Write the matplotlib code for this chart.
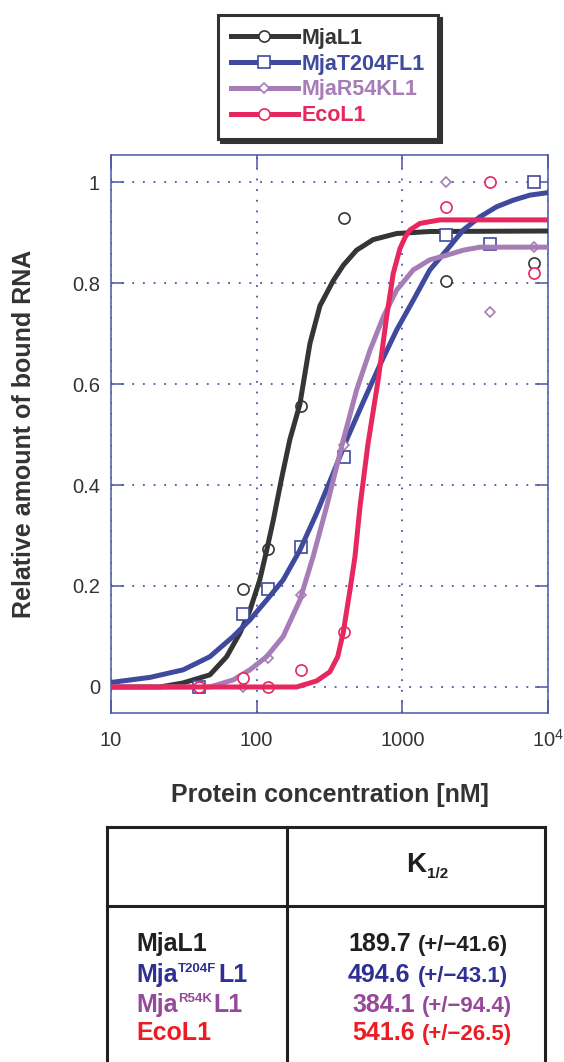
import matplotlib
matplotlib.use('Agg')
import matplotlib.pyplot as plt
from matplotlib.lines import Line2D
from matplotlib.ticker import NullLocator

plt.rcParams['font.family'] = ['Liberation Sans', 'DejaVu Sans']
plt.rcParams['mathtext.fontset'] = 'custom'
plt.rcParams['mathtext.rm'] = 'Liberation Sans'

# fitted curves
mja_cx = [10, 21.7, 31.2, 47.7, 62.2, 76.8, 89.9, 105, 117, 130, 149, 169, 198, 232, 272, 336, 393, 485, 631, 914, 1545, 10000]
mja_cy = [0, 0, 0.008, 0.024, 0.06, 0.107, 0.152, 0.212, 0.27, 0.33, 0.416, 0.49, 0.56, 0.68, 0.755, 0.805, 0.835, 0.865, 0.886, 0.898, 0.902, 0.903]
t204_cx = [10, 18.5, 31.3, 47.7, 69, 89.9, 117, 152, 198, 258, 336, 415, 540, 702, 914, 1189, 1545, 2014, 2620, 3410, 4440, 5770, 7510, 10000]
t204_cy = [0.009, 0.019, 0.034, 0.06, 0.1, 0.133, 0.172, 0.212, 0.271, 0.344, 0.424, 0.49, 0.565, 0.638, 0.707, 0.766, 0.826, 0.865, 0.905, 0.931, 0.951, 0.964, 0.974, 0.979]
r54_cx = [10, 47.7, 69, 89.9, 117, 152, 198, 244, 302, 393, 485, 600, 740, 914, 1189, 1545, 2014, 2620, 3410, 10000]
r54_cy = [0, 0, 0.014, 0.034, 0.06, 0.1, 0.172, 0.258, 0.357, 0.489, 0.588, 0.667, 0.733, 0.786, 0.826, 0.846, 0.855, 0.865, 0.871, 0.871]
eco_cx = [10, 188, 258, 318, 360, 393, 437, 473, 512, 580, 684, 780, 866, 963, 1050, 1127, 1321, 1811, 10000]
eco_cy = [0, 0, 0.012, 0.03, 0.06, 0.108, 0.192, 0.258, 0.357, 0.48, 0.61, 0.733, 0.819, 0.868, 0.892, 0.905, 0.918, 0.925, 0.925]

# measured points
mja_x = [40, 80, 120, 200, 400, 2000, 8000]
mja_y = [0, 0.195, 0.273, 0.557, 0.929, 0.804, 0.839]
t204_x = [40, 80, 120, 200, 400, 2000, 4000, 8000]
t204_y = [0, 0.145, 0.194, 0.277, 0.455, 0.895, 0.877, 1.0]
r54_x = [40, 80, 120, 200, 400, 2000, 4000, 8000]
r54_y = [0, 0, 0.058, 0.182, 0.479, 1.0, 0.742, 0.871]
eco_x = [40, 80, 120, 200, 400, 2000, 4000, 8000]
eco_y = [0, 0.018, 0, 0.034, 0.108, 0.951, 1.0, 0.82]

labels = ['MjaL1', 'MjaT204FL1', 'MjaR54KL1', 'EcoL1']
colors = ['#353535', '#3f4a9e', '#a67db6', '#e6285f']
markers = ['o', 's', 'D', 'o']
msizes = [8, 8, 5.5, 8]

# table
row_main = ['MjaL1', 'Mja', 'Mja', 'EcoL1']
row_sup = ['', 'T204F', 'R54K', '']
row_end = ['', 'L1', 'L1', '']
k_half = ['189.7', '494.6', '384.1', '541.6']
k_err = ['41.6', '43.1', '94.4', '26.5']
tab_colors = ['#231f20', '#2e3192', '#96489a', '#ed1c24']

axblue = '#4a55a8'
txt = '#333333'

fig = plt.figure(figsize=(5.64, 10.62), dpi=100)
ax = fig.add_axes([111/564, 1-713/1062, 437/564, 558/1062])

curves = [(mja_cx, mja_cy), (t204_cx, t204_cy), (r54_cx, r54_cy), (eco_cx, eco_cy)]
points = [(mja_x, mja_y), (t204_x, t204_y), (r54_x, r54_y), (eco_x, eco_y)]
handles = []
for i in range(4):
    c = colors[i]
    ax.plot(points[i][0], points[i][1], ls='none', marker=markers[i], ms=msizes[i],
            mfc='white', mec=c, mew=1.2, zorder=3 + i)
    ax.plot(curves[i][0], curves[i][1], color=c, lw=3.6, zorder=3 + i)
    handles.append(Line2D([], [], color=c, lw=3.6, marker=markers[i], ms=msizes[i],
                          mfc='white', mec=c, mew=1.2))

ax.set_xscale('log')
ax.set_xlim(10, 1e4)
ax.set_ylim(-0.0515, 1.0535)
ax.set_xticks([10, 100, 1000, 1e4], ['10', '100', '1000', r'$\mathregular{10^4}$'])
ax.xaxis.set_minor_locator(NullLocator())
ax.set_yticks([0, 0.2, 0.4, 0.6, 0.8, 1], ['0', '0.2', '0.4', '0.6', '0.8', '1'])
ax.tick_params(direction='in', length=9.5, width=1.1, color=axblue, top=True, right=True,
               labelsize=14.5, labelcolor=txt)
ax.tick_params(axis='x', pad=24)
ax.tick_params(axis='y', pad=8)
plt.setp(ax.get_xticklabels(), va='baseline')
for s in ax.spines.values():
    s.set_color(axblue)
    s.set_linewidth(1.1)
ax.grid(True, color=axblue, lw=1.3, linestyle=(0, (1, 4.9)))
ax.set_axisbelow(True)

fig.text(24/564, 1-434/1062, 'Relative amount of bound RNA', rotation=90, ha='center', va='center',
         fontsize=18, weight='bold', color=txt)
fig.text(329.5/564, 1-802/1062, 'Protein concentration [nM]', ha='center', va='baseline',
         fontsize=18, weight='bold', color=txt)

leg = fig.legend(handles, labels, loc='upper left', bbox_to_anchor=(218/564, 1-15/1062),
                 bbox_transform=fig.transFigure, borderaxespad=0, prop={'weight': 'bold', 'size': 15.5},
                 labelcolor='linecolor', handlelength=3.1, handletextpad=0.2, labelspacing=0.22,
                 borderpad=0.6, fancybox=False, framealpha=1,
                 shadow={'color': '#333333', 'alpha': 1})
leg.get_frame().set_edgecolor('#333333')
leg.get_frame().set_linewidth(2.2)

# table in pixel coordinates
lay = fig.add_axes([0, 0, 1, 1])
lay.set_xlim(0, 564)
lay.set_ylim(1062, 0)
lay.axis('off')
tl = '#231f20'
lay.plot([107, 545], [827, 827], color=tl, lw=2.2, solid_capstyle='projecting')
lay.plot([107, 545], [906, 906], color=tl, lw=2.2)
for xv in [107, 287, 545]:
    lay.plot([xv, xv], [827, 1070], color=tl, lw=2.2)

tk = lay.text(406, 872, 'K', fontsize=20, weight='bold', color=tl, va='baseline')
lay.annotate('1/2', xy=(1, 878), xycoords=(tk, 'data'), xytext=(1, 0), textcoords='offset points',
             fontsize=11, weight='bold', color=tl, va='baseline')

baselines = [951, 982, 1012, 1040]
val_x = [348, 348, 352, 352]
for i in range(4):
    c = tab_colors[i]
    y = baselines[i]
    t1 = lay.text(136, y, row_main[i], fontsize=18, weight='bold', color=c, va='baseline')
    if row_sup[i]:
        t2 = lay.annotate(row_sup[i], xy=(1, y - 10), xycoords=(t1, 'data'), xytext=(0.5, 0),
                          textcoords='offset points', fontsize=9.5, weight='bold', color=c, va='baseline')
        lay.annotate(row_end[i], xy=(1, y), xycoords=(t2, 'data'), xytext=(1, 0),
                     textcoords='offset points', fontsize=18, weight='bold', color=c, va='baseline')
    tv = lay.text(val_x[i], y, k_half[i], fontsize=18, weight='bold', color=c, va='baseline')
    lay.annotate('(+/\u2212' + k_err[i] + ')', xy=(1, y), xycoords=(tv, 'data'), xytext=(5, 0),
                 textcoords='offset points', fontsize=16, weight='bold', color=c, va='baseline')

fig.savefig('out.png', dpi=100)
